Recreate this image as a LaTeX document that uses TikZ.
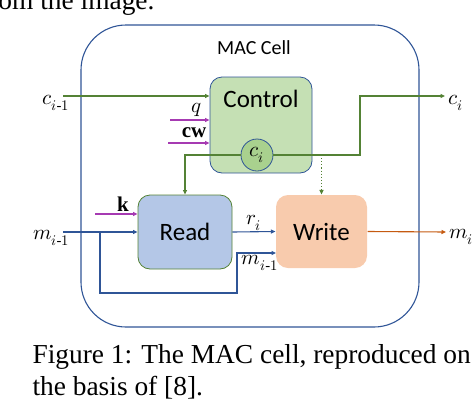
\documentclass[tikz,border=0pt]{standalone}
\usepackage{amsmath}
\usepackage{fontspec}
\usepackage{unicode-math}
\setmainfont{Liberation Serif}
\setsansfont{Carlito}
\setmathfont{Latin Modern Math}
\usetikzlibrary{positioning,arrows.meta}
\definecolor{cellblue}{RGB}{47,85,151}
\definecolor{lineblue}{RGB}{47,85,151}
\definecolor{linegreen}{RGB}{84,130,53}
\definecolor{linepink}{RGB}{166,58,178}
\definecolor{lineorange}{RGB}{197,90,17}
\definecolor{ctrlfill}{RGB}{197,224,180}
\definecolor{cfill}{RGB}{169,209,142}
\definecolor{readfill}{RGB}{180,199,231}
\definecolor{writefill}{RGB}{248,203,173}

\begin{document}
\begin{tikzpicture}[x=1pt,y=-1pt,>={Triangle[length=4.5pt,width=4pt]},
   line width=1.1pt,
   unit/.style={rounded corners=12pt,inner sep=0pt},
   unittext/.style={font=\sffamily\fontsize{25}{30}\selectfont},
   mathlbl/.style={font=\fontsize{21}{25}\selectfont,inner sep=1pt},
   greenline/.style={draw=linegreen,->},
   blueline/.style={draw=lineblue,->},
   pinkline/.style={draw=linepink,->}]
  \useasboundingbox (0,0) rectangle (472,400);
  \clip (0,0) rectangle (472,400);
  % text around the figure
  \node[anchor=base east,inner sep=0pt,font=\fontsize{27.4}{33}\selectfont] (prev) at (155,9) {from the image.};
  \node[anchor=base west,inner sep=0pt,font=\fontsize{27.4}{33}\selectfont] (cap1) at (32,363) {Figure 1: The MAC cell, reproduced on};
  \node[anchor=base west,inner sep=0pt,font=\fontsize{27.4}{33}\selectfont] (cap2) at (32,395) {the basis of [8].};
  % the cell
  \node[draw=cellblue,minimum width=338pt,minimum height=302pt,rounded corners=45pt] (cell) at (250,176) {};
  \node[font=\sffamily\fontsize{20}{24}\selectfont] (title) at (254,48) {MAC Cell};
  % units
  \node[unit,draw=lineblue,line width=0.8pt,fill=ctrlfill,minimum width=102pt,minimum height=96pt] (ctrl) at (261,125) {};
  \node[unittext] (ctrltext) at (261,99) {Control};
  \node[circle,draw=lineblue,line width=0.8pt,fill=cfill,minimum size=32pt,inner sep=0pt,mathlbl] (ci) at (257,155) {$c_i$};
  \node[unit,unittext,draw=linegreen,line width=0.8pt,fill=readfill,minimum width=94pt,minimum height=74pt] (read) at (185,232) {Read};
  \node[unit,unittext,fill=writefill,minimum width=91pt,minimum height=73pt] (write) at (321.5,231.5) {Write};
  % free ends
  \coordinate (cin) at (63,96);
  \coordinate (qin) at (170,120);
  \coordinate (cwin) at (168,143);
  \coordinate (cout) at (445,96);
  \coordinate (cbend) at (360,96);
  \coordinate (kin) at (95,214);
  \coordinate (min) at (63,232);
  \coordinate (mbr) at (100,232);
  \coordinate (mlow) at (237,293);
  \coordinate (wm) at (276,253);
  \coordinate (mout) at (446,232);
  % control inputs and outputs
  \draw[greenline] (cin) -- (cin -| ctrl.west);
  \draw[pinkline] (qin) -- (qin -| ctrl.west);
  \draw[pinkline] (cwin) -- (cwin -| ctrl.west);
  \draw[greenline] (ci.east) -| (cbend) -- (cout);
  \draw[greenline] (ci.west) -| (read.north);
  \draw[greenline,dotted] (write.north |- ci) -- (write.north);
  % read and write
  \draw[pinkline] (kin) -- (kin -| read.west);
  \draw[blueline] (min) -- (read.west);
  \draw[blueline] (mbr) |- (mlow) |- (wm);
  \draw[blueline] (read.east) -- node[mathlbl,above] (ri) {$r_i$} (write.west);
  \draw[draw=lineorange,->] (write.east) -- (mout);
  % labels
  \node[mathlbl,anchor=east] (cinlbl) at (71,103) {$c_{i\text{-}1}$};
  \node[mathlbl] (qlbl) at (197,110) {$q$};
  \node[mathlbl] (cwlbl) at (194,133) {$\mathbf{cw}$};
  \node[mathlbl,anchor=west] (coutlbl) at (447,103) {$c_i$};
  \node[mathlbl] (klbl) at (123,204) {$\mathbf{k}$};
  \node[mathlbl,anchor=east] (minlbl) at (71,238) {$m_{i\text{-}1}$};
  \node[mathlbl] (wmlbl) at (260,263) {$m_{i\text{-}1}$};
  \node[mathlbl,anchor=west] (moutlbl) at (448,237) {$m_i$};
\end{tikzpicture}
\end{document}
